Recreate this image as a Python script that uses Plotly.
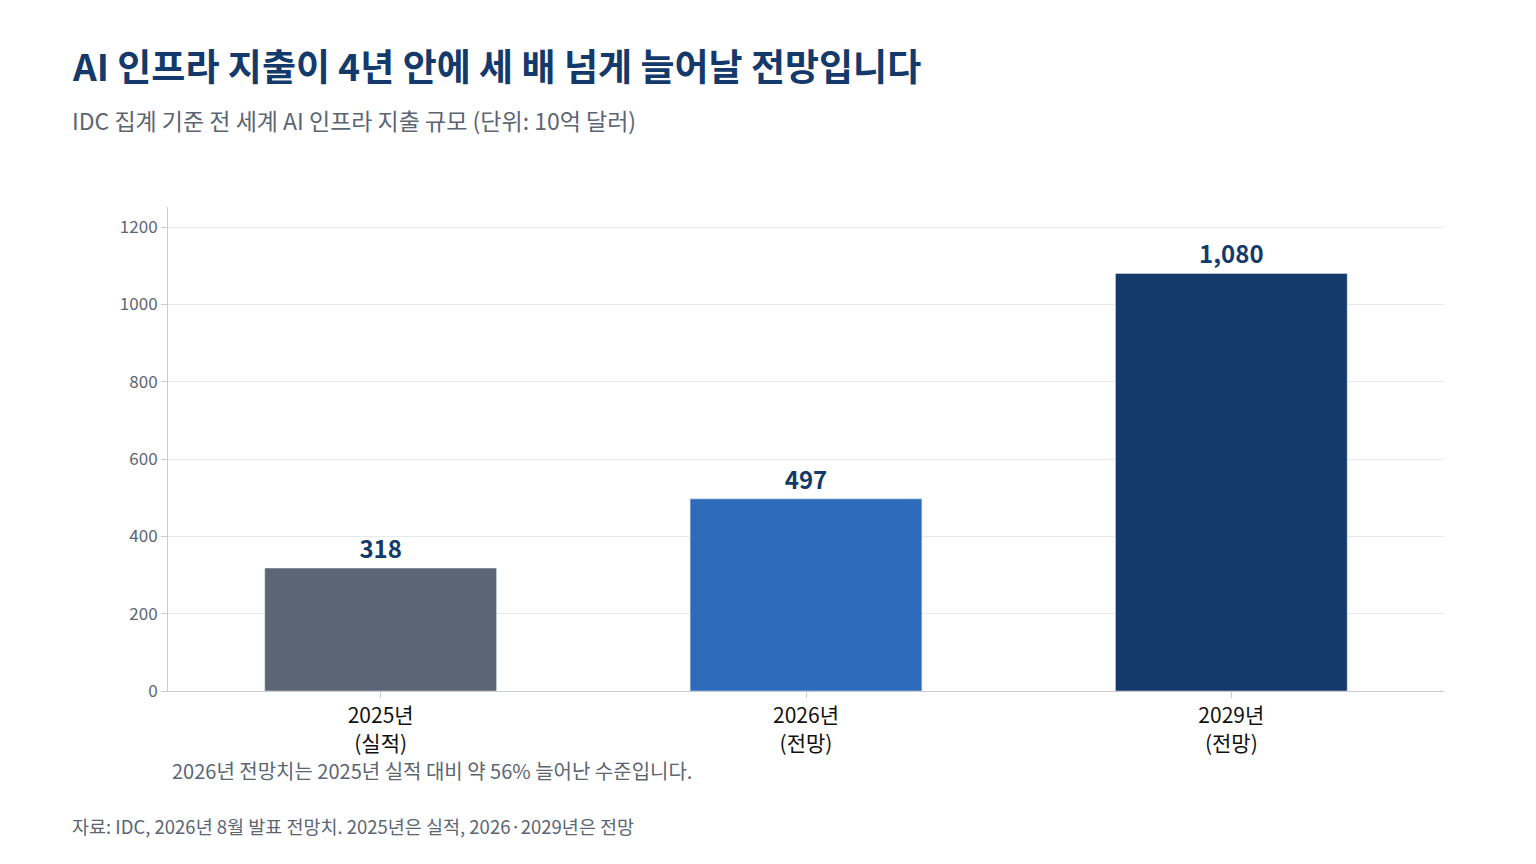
import plotly.graph_objects as go

# 데이터
categories = ["2025년<br>(실적)", "2026년<br>(전망)", "2029년<br>(전망)"]
spending = [318, 497, 1080]
value_labels = ["318", "497", "1,080"]
bar_colors = ["#5c6573", "#2f6bbb", "#143a6b"]

FONT = "Noto Sans CJK KR"

# 페이지 여백(8px)을 감안한 크기
W, H = 1520, 848
L, R, T, B = 160, 84, 199, 165

fig = go.Figure()
fig.add_trace(
    go.Bar(
        x=categories,
        y=spending,
        text=value_labels,
        textposition="outside",
        textfont=dict(family=FONT, size=24, color="#143a6b", weight="bold"),
        marker=dict(color=bar_colors),
        width=0.545,
        cliponaxis=False,
        hoverinfo="skip",
    )
)

fig.update_layout(
    width=W,
    height=H,
    paper_bgcolor="white",
    plot_bgcolor="white",
    font=dict(family=FONT),
    margin=dict(l=L, r=R, t=T, b=B),
    showlegend=False,
    xaxis=dict(
        showline=True,
        linecolor="#c8ccd2",
        ticks="outside",
        tickcolor="#c8ccd2",
        ticklen=6,
        tickfont=dict(size=21, color="#111111"),
    ),
    yaxis=dict(
        range=[0, 1252],
        tickvals=[0, 200, 400, 600, 800, 1000, 1200],
        showline=True,
        linecolor="#c8ccd2",
        ticks="outside",
        tickcolor="#c8ccd2",
        ticklen=6,
        gridcolor="#e6e9ee",
        zeroline=False,
        tickfont=dict(size=17, color="#5b6573"),
    ),
    annotations=[
        dict(
            text="<b>AI 인프라 지출이 4년 안에 세 배 넘게 늘어날 전망입니다</b>",
            x=70, y=65, showarrow=False, xanchor="left", yanchor="middle",
            font=dict(size=37, color="#143a6b"),
        ),
        dict(
            text="IDC 집계 기준 전 세계 AI 인프라 지출 규모 (단위: 10억 달러)",
            x=70, y=120, showarrow=False, xanchor="left", yanchor="middle",
            font=dict(size=23, color="#5b6573"),
        ),
        dict(
            text="2026년 전망치는 2025년 실적 대비 약 56% 늘어난 수준입니다.",
            x=170, y=770, showarrow=False, xanchor="left", yanchor="middle",
            font=dict(size=20, color="#5b6573"),
        ),
        dict(
            text="자료: IDC, 2026년 8월 발표 전망치. 2025년은 실적, 2026·2029년은 전망",
            x=70, y=826, showarrow=False, xanchor="left", yanchor="middle",
            font=dict(size=18.5, color="#5b6573"),
        ),
    ],
)

# 화면 픽셀 좌표 → paper 좌표
for a in fig.layout.annotations:
    px, py = a.x - 8, a.y - 8
    a.xref = "paper"
    a.yref = "paper"
    a.x = (px - L) / (W - L - R)
    a.y = (H - B - py) / (H - T - B)

fig.write_html("out.html")
